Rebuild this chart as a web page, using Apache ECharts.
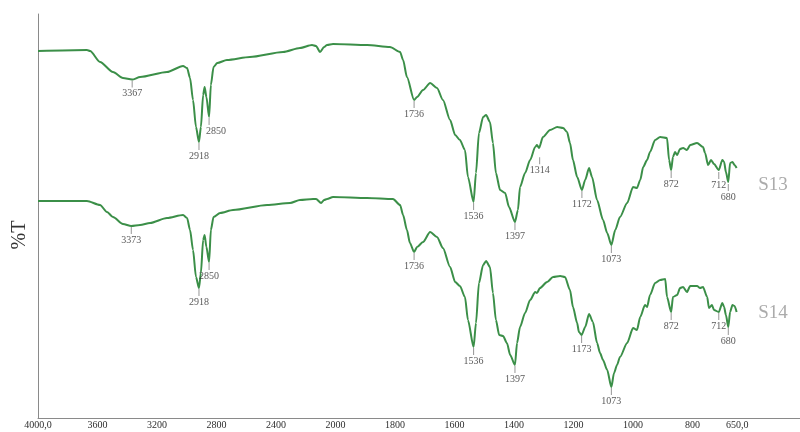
<!DOCTYPE html>
<html>
<head>
<meta charset="utf-8">
<script src="https://cdn.jsdelivr.net/npm/echarts@6/dist/echarts.min.js"></script>
<style>
  html, body { margin: 0; padding: 0; background: #ffffff; }
  #chart { width: 800px; height: 432px; }
</style>
</head>
<body>
<div id="chart"></div>
<script>
// FTIR spectra of samples S13 and S14 (wavenumber in cm-1, transmittance in arbitrary %T, traces offset)
const seriesNames = ['S13', 'S14'];

const waveS13 = [4000, 3671, 3650, 3583, 3496, 3429, 3367, 3314, 3133, 3025, 2998, 2978, 2958, 2938, 2918,
  2905, 2890, 2880, 2868, 2850, 2838, 2820, 2795, 2730, 2575, 2353, 2239, 2158, 2131, 2104, 2077, 2057, 2017,
  1894, 1817, 1783, 1773, 1760, 1736, 1726, 1706, 1682, 1659, 1639, 1615, 1598, 1582, 1565, 1555, 1536, 1528,
  1518, 1504, 1494, 1481, 1471, 1461, 1447, 1430, 1417, 1397, 1387, 1380, 1363, 1346, 1329, 1323, 1316, 1303,
  1279, 1255, 1235, 1222, 1212, 1202, 1188, 1172, 1161, 1148, 1138, 1121, 1101, 1087, 1073, 1060, 1044, 1020,
  1000, 987, 976, 966, 953, 943, 926, 909, 886, 879, 872, 866, 859, 852, 842, 832, 819, 808, 785, 765, 758,
  748, 738, 728, 712, 700, 694, 688, 680, 674, 666, 659, 652];
const tS13 = [91.75, 92, 91.75, 89, 86.5, 85, 84.6, 85.25, 86.5, 88, 87.5, 85, 79.5, 72.75, 69,
  72.75, 80.75, 82.75, 80.25, 75.25, 83.25, 87.75, 88.75, 89.5, 90.25, 91.5, 92.5, 93.25, 93, 91.5, 92.75, 93.25, 93.5,
  93.25, 92.75, 91.5, 89.5, 85.25, 79.5, 80.25, 82, 83.75, 82.5, 79.5, 74.5, 70.75, 69.5, 67, 60.25, 54, 61.25,
  71.25, 75.25, 75.75, 74, 68.75, 61.25, 57, 56.25, 52.75, 49, 52, 57.75, 61.25, 64.5, 67.75, 68.25, 67.5, 70.25,
  72, 72.75, 72.5, 71.5, 68.75, 64.5, 60.25, 57, 59.5, 62.5, 60.25, 54.5, 49.5, 46.25, 43.25, 47, 50.25, 53.75,
  57.75, 57.5, 59.5, 62.75, 64.5, 66.5, 69.5, 70.25, 70, 64.5, 62, 65.25, 66.5, 65.75, 67.25, 67.5, 67, 68.25, 68.75, 67.75, 66.25,
  63.25, 64.5, 63.5, 62, 64.5, 64, 61.5, 59, 63.75, 64, 63.25, 62.5];

const waveS14 = [4000, 3671, 3583, 3536, 3496, 3429, 3373, 3314, 3247, 3133, 3025, 2998, 2978, 2958, 2938, 2918,
  2905, 2890, 2880, 2868, 2850, 2838, 2820, 2776, 2689, 2460, 2306, 2239, 2151, 2131, 2097, 2077, 2057, 2017,
  1894, 1807, 1783, 1773, 1760, 1750, 1736, 1726, 1706, 1682, 1659, 1639, 1615, 1598, 1582, 1565, 1555, 1536,
  1528, 1518, 1504, 1494, 1481, 1471, 1461, 1450, 1437, 1424, 1413, 1397, 1390, 1380, 1363, 1346, 1329, 1323,
  1313, 1289, 1269, 1245, 1229, 1212, 1202, 1188, 1182, 1173, 1161, 1148, 1135, 1121, 1111, 1101, 1087, 1073,
  1064, 1054, 1044, 1020, 1000, 987, 976, 960, 953, 943, 926, 909, 892, 886, 872, 866, 852, 842, 832, 819, 808,
  785, 775, 765, 751, 745, 735, 728, 712, 700, 694, 688, 680, 674, 666, 659, 652];
const tS14 = [54.25, 54.25, 53.25, 51.5, 50.25, 48.5, 48, 48.25, 48.75, 50, 50.75, 50, 47, 42, 35.25, 32.5,
  36.25, 44.5, 45.75, 42.75, 39, 47, 50.25, 51.25, 52, 53.25, 53.75, 54.5, 54.75, 54.75, 53.75, 54.5, 54.75, 55.25,
  55, 54.75, 53.25, 50.75, 47, 43.75, 41.5, 42.75, 44, 46.5, 45.25, 42.5, 37.75, 34, 33, 30.25, 24.5, 17.75,
  23.75, 33.75, 38.25, 39.25, 37.75, 31.25, 24.5, 20.75, 20.5, 18.75, 15.75, 13.25, 18.75, 22.75, 26.25, 29.5, 31.5, 31.25,
  32.5, 34, 35.25, 35.5, 35.25, 32, 27.75, 23.75, 21.5, 20.75, 22.75, 26, 24, 18.75, 16.25, 14.5, 12, 7.75,
  11.25, 13.25, 15.25, 18.75, 22.5, 22, 25.25, 28.25, 27.75, 30.75, 33.75, 34.5, 34.75, 30.25, 26.5, 30.25, 30.75, 32.5, 32.75, 31.5, 33,
  33, 32.5, 32.75, 30.25, 27.5, 28.25, 27, 26.5, 28.75, 27.75, 25.75, 22.75, 26.5, 28.25, 28, 26.5];

// Marked band positions
const peaksS13 = [3367, 2918, 2850, 1736, 1536, 1397, 1314, 1172, 1073, 872, 712, 680];
const peaksS14 = [3373, 2918, 2850, 1736, 1536, 1397, 1173, 1073, 872, 712, 680];

// Axis tick values and their printed labels
const tickValues = [4000, 3600, 3200, 2800, 2400, 2000, 1800, 1600, 1400, 1200, 1000, 800, 650];
const tickLabels = ['4000,0', '3600', '3200', '2800', '2400', '2000', '1800', '1600', '1400', '1200', '1000', '800', '650,0'];

// The wavenumber axis is drawn with a scale change at 2000 cm-1:
// 4000-2000 occupies half the length per unit of 2000-650.
function axisPos(w) {
  return w >= 2000 ? (4000 - w) / 2 : 1000 + (2000 - w);
}

function interpAt(waves, vals, w) {
  for (let i = 0; i < waves.length - 1; i++) {
    const a = waves[i], b = waves[i + 1];
    if (w <= a && w >= b) {
      const pa = axisPos(a), pb = axisPos(b), pw = axisPos(w);
      const t = pb === pa ? 0 : (pw - pa) / (pb - pa);
      return vals[i] + t * (vals[i + 1] - vals[i]);
    }
  }
  return vals[vals.length - 1];
}

const LINE_COLOR = '#3b8f48';
const SERIF = '"Liberation Serif", "DejaVu Serif", serif';

// Extra drop (px) below the trace for particular labels, and horizontal nudges
const labelGap = { 'S13-1314': 11, 'S13-712': 2, 'S13-680': 2 };
const labelShift = { 'S13-2850': 7 };

function lineSeries(name, waves, vals) {
  return {
    name: name,
    type: 'line',
    showSymbol: false,
    silent: true,
    animation: false,
    smooth: 0.25,
    smoothMonotone: 'x',
    lineStyle: { color: LINE_COLOR, width: 2 },
    data: waves.map((w, i) => [axisPos(w), vals[i]])
  };
}

function peakSeries(name, peaks, waves, vals) {
  return {
    name: name + '-bands',
    type: 'scatter',
    silent: true,
    animation: false,
    z: 5,
    data: peaks.map(w => {
      const key = name + '-' + w;
      const gap = labelGap[key] || 1;
      const len = 7;
      const dx = labelShift[key] || 0;
      return {
        value: [axisPos(w), interpAt(waves, vals, w)],
        symbol: 'rect',
        symbolSize: [1, len],
        symbolOffset: [0, gap + len / 2],
        label: { offset: [dx, 0] },
        bandLabel: String(w)
      };
    }),
    itemStyle: { color: '#7a7a7a' },
    label: {
      show: true,
      position: 'bottom',
      distance: 1,
      fontFamily: SERIF,
      fontSize: 10,
      color: '#2e2e2e',
      formatter: p => p.data.bandLabel
    }
  };
}

const chart = echarts.init(document.getElementById('chart'), null, { renderer: 'canvas' });

const option = {
  backgroundColor: '#ffffff',
  animation: false,
  grid: { left: 38, right: 0, top: 14, bottom: 14, containLabel: false },
  xAxis: {
    type: 'value',
    min: 0,
    max: 2561,
    axisLine: { show: true, lineStyle: { color: '#8a8a8a', width: 1 } },
    axisTick: { show: false },
    splitLine: { show: false },
    axisLabel: {
      show: true,
      customValues: tickValues.map(axisPos),
      hideOverlap: false,
      margin: 2,
      fontFamily: SERIF,
      fontSize: 10,
      color: '#2e2e2e',
      formatter: function (val) {
        const idx = tickValues.findIndex(w => Math.abs(axisPos(w) - val) < 0.01);
        return idx >= 0 ? tickLabels[idx] : '';
      }
    }
  },
  yAxis: {
    type: 'value',
    min: 0,
    max: 101,
    axisLine: { show: true, lineStyle: { color: '#8a8a8a', width: 1 } },
    axisTick: { show: false },
    axisLabel: { show: false },
    splitLine: { show: false }
  },
  graphic: [
    {
      type: 'text',
      x: 20,
      y: 235,
      rotation: Math.PI / 2,
      style: {
        text: '%T',
        fontFamily: SERIF,
        fontSize: 20,
        fill: '#333333',
        align: 'center',
        verticalAlign: 'middle'
      }
    },
    {
      type: 'text',
      x: 773,
      y: 185,
      style: { text: seriesNames[0], fontFamily: SERIF, fontSize: 19, fill: '#ababab', align: 'center', verticalAlign: 'middle' }
    },
    {
      type: 'text',
      x: 773,
      y: 313,
      style: { text: seriesNames[1], fontFamily: SERIF, fontSize: 19, fill: '#ababab', align: 'center', verticalAlign: 'middle' }
    }
  ],
  series: [
    lineSeries(seriesNames[0], waveS13, tS13),
    lineSeries(seriesNames[1], waveS14, tS14),
    peakSeries(seriesNames[0], peaksS13, waveS13, tS13),
    peakSeries(seriesNames[1], peaksS14, waveS14, tS14)
  ]
};

chart.setOption(option);
</script>
</body>
</html>
